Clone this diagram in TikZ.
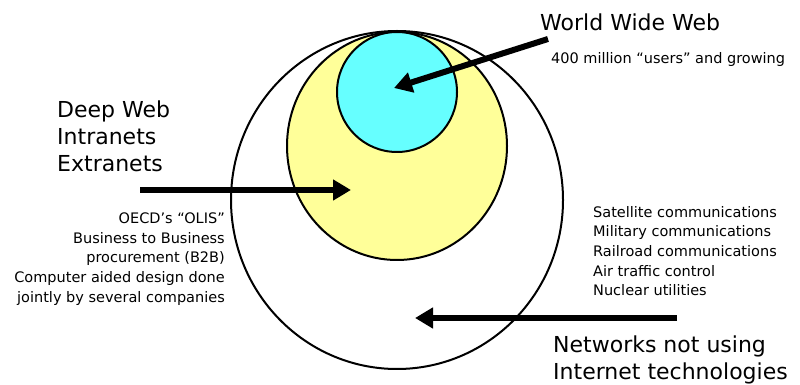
\documentclass[tikz,border=0pt]{standalone}
\usepackage{fontspec}
\setmainfont{DejaVu Sans}
\usetikzlibrary{positioning}
\usetikzlibrary{arrows.meta}

\definecolor{webcyan}{HTML}{66FFFF}
\definecolor{deepyellow}{HTML}{FFFF99}

\begin{document}
\begin{tikzpicture}[x=1pt, y=1pt]
    \tikzset{
    ring/.style=
    {
        draw,
        line width = 2pt
    },
    pointer/.style=
    {
        line width = 6pt,
        -{Triangle[length=18pt, width=20pt]}
    },
    bigtext/.style=
    {
        inner sep = 0pt,
        font = \fontsize{22}{27}\selectfont
    },
    smalltext/.style=
    {
        inner sep = 0pt,
        font = \fontsize{14.5}{19.7}\selectfont
    }
}

  \useasboundingbox (0,0) rectangle (800,385);

  % circles
  \draw[ring] (397,185) ellipse [x radius=166, y radius=169];
  \draw[ring, fill=deepyellow] (397,239) ellipse [x radius=110, y radius=114];
  \draw[ring, fill=webcyan] (397,293) circle [radius=60];

  % labels
  \node[bigtext, anchor=west] (WWW) at (540,363) {World Wide Web};
  \node[smalltext, anchor=west] (Users) at (551,325) {400 million “users” and growing};
  \node[bigtext, anchor=west, align=left] (Deep) at (57,249) {Deep Web\\Intranets\\Extranets};
  \node[smalltext, anchor=east, align=right] (Examples) at (225,126)
    {OECD’s “OLIS”\\Business to Business\\procurement (B2B)\\Computer aided design done\\jointly by several companies};
  \node[smalltext, anchor=west, align=left] (Private) at (593,134)
    {Satellite communications\\Military communications\\Railroad communications\\Air traffic control\\Nuclear utilities};
  \node[bigtext, anchor=west, align=left] (Other) at (553,25) {Networks not using\\Internet technologies};

  % arrows
  \coordinate (WWWtail) at (548,346);
  \coordinate (WWWtip) at (394,297);
  \coordinate (Deeptail) at (140,195);
  \coordinate (Deeptip) at (351,195);
  \coordinate (Othertail) at (677,67);
  \coordinate (Othertip) at (415,67);

  \draw[pointer] (WWWtail) -- (WWWtip);
  \draw[pointer] (Deeptail) -- (Deeptip);
  \draw[pointer] (Othertail) -- (Othertip);

\end{tikzpicture}
\end{document}
